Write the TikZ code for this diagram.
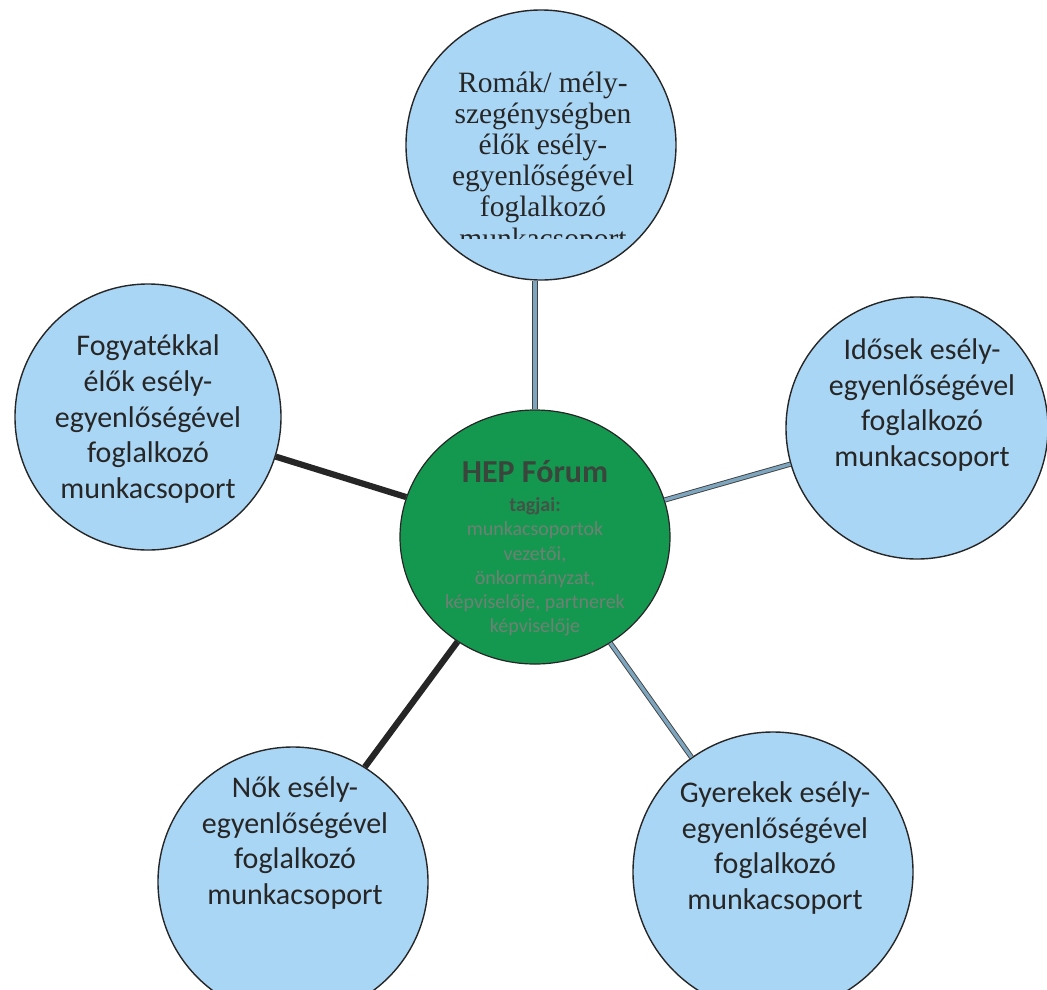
\documentclass[tikz,border=0pt]{standalone}
\usepackage{fontspec}
\usetikzlibrary{shapes.geometric}
\setmainfont{Carlito}
\newfontfamily\serifc{Liberation Serif}
\definecolor{bubble}{RGB}{170,214,245}
\definecolor{hub}{RGB}{20,152,80}
\definecolor{linkblue}{RGB}{125,165,190}
\definecolor{hubtitle}{RGB}{58,70,60}
\definecolor{hubtext}{RGB}{112,128,116}
\tikzset{
  bub/.style={circle, draw=black!85, line width=1.4pt, fill=bubble, inner sep=0pt, minimum size=#1},
  lbl/.style={align=center, font=\fontsize{30}{35.6}\selectfont, text=black!85, inner sep=0pt},
  darklink/.style={line width=6.2pt, draw=black!85},
  bluelink/.style={draw=black!75, line width=0.9pt, double=linkblue, double distance=3.4pt},
}
\begin{document}
\begin{tikzpicture}[x=1pt,y=-1pt]
\useasboundingbox (0,0) rectangle (1047,989);
\clip (0,0) rectangle (1047,989);
% circles
\node[bub=270pt] (top) at (541,145) {};
\node[bub=266pt] (left) at (148,417) {};
\node[bub=262pt] (right) at (917,428) {};
\node[bub=270pt] (bl) at (293,882) {};
\node[bub=280pt] (br) at (773,872) {};
\node[ellipse, draw=black!85, line width=1.2pt, fill=hub, inner sep=0pt, minimum width=270pt, minimum height=254pt] (hub) at (535,537) {};
% connectors
\draw[bluelink] (hub.north) -- (hub.north |- top.south);
\draw[darklink] (left) -- (hub);
\draw[bluelink] (right) -- (hub);
\draw[darklink] (hub) -- (bl.58);
\draw[bluelink] (br) -- (hub);
% texts
\begin{scope}
\clip (400,0) rectangle (690,238);
\node[align=center, inner sep=0pt, text=black!85, font=\serifc\fontsize{29.5}{31.2}\selectfont] (toptext) at (543,163)
  {Romák/ mély-\\szegénységben\\élők esély-\\egyenlőségével\\foglalkozó\\munkacsoport};
\end{scope}
\node[lbl] (lefttext) at (148,419) {Fogyatékkal\\élők esély-\\egyenlőségével\\foglalkozó\\munkacsoport};
\node[lbl] (righttext) at (922,405) {Idősek esély-\\egyenlőségével\\foglalkozó\\munkacsoport};
\node[lbl] (bltext) at (295,843) {Nők esély-\\egyenlőségével\\foglalkozó\\munkacsoport};
\node[lbl] (brtext) at (775,848) {Gyerekek esély-\\egyenlőségével\\foglalkozó\\munkacsoport};
\node[inner sep=0pt, text=hubtitle, font=\bfseries\fontsize{32}{36}\selectfont] (hubtitle) at (535,472) {HEP Fórum};
\node[inner sep=0pt, text=hubtitle!80!hubtext, font=\bfseries\fontsize{20}{24}\selectfont] (hubtag) at (535,506) {tagjai:};
\node[align=center, inner sep=0pt, text=hubtext, font=\fontsize{20}{24.2}\selectfont] (hubtext) at (535,579)
  {munkacsoportok\\vezetői,\\önkormányzat,\\képviselője, partnerek\\képviselője};
\end{tikzpicture}
\end{document}
